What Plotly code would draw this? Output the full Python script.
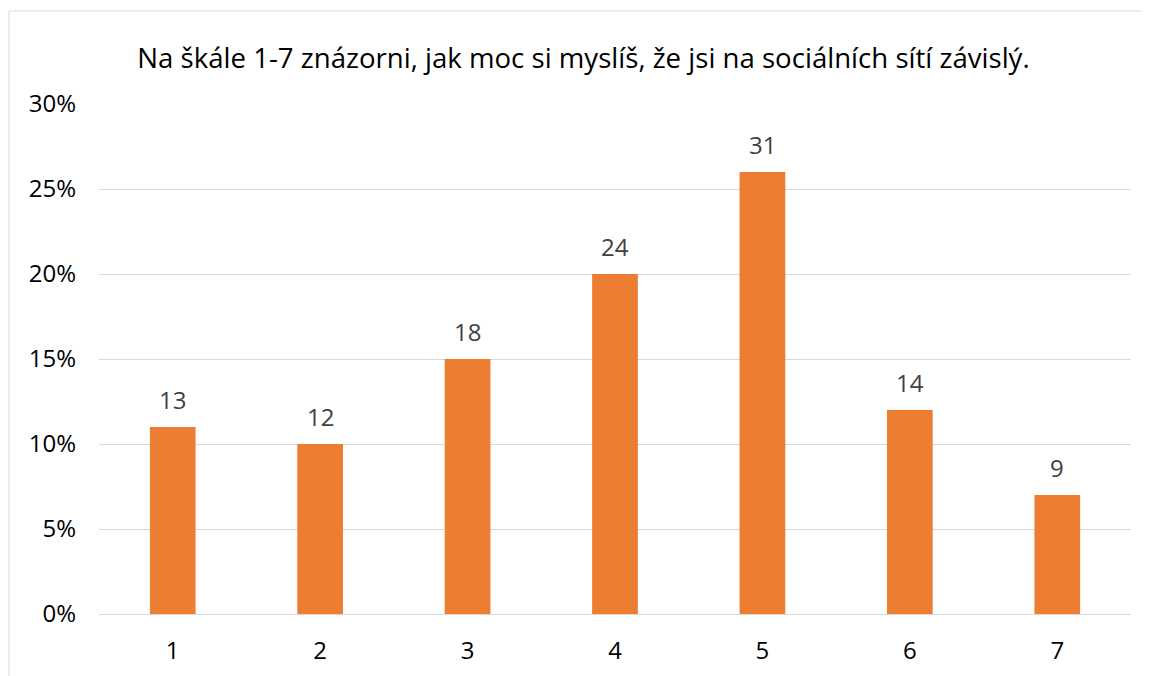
import plotly.graph_objects as go

categories = ["1", "2", "3", "4", "5", "6", "7"]
percent_values = [11, 10, 15, 20, 26, 12, 7]
count_labels = [13, 12, 18, 24, 31, 14, 9]
y_tick_values = [0, 5, 10, 15, 20, 25, 30]
y_tick_labels = ["0%", "5%", "10%", "15%", "20%", "25%", "30%"]
title_text = "Na škále 1-7 znázorni, jak moc si myslíš, že jsi na sociálních sítí závislý."

FONT = "Open Sans"
W, H = 1141, 668

fig = go.Figure(
    go.Bar(
        x=categories,
        y=percent_values,
        marker=dict(color="#ED7D31", line=dict(width=0)),
        width=0.31,
        hoverinfo="skip",
    )
)

for idx, (val, cnt) in enumerate(zip(percent_values, count_labels)):
    fig.add_annotation(
        x=idx,
        y=val,
        xref="x",
        yref="y",
        text=str(cnt),
        showarrow=False,
        xanchor="center",
        yanchor="middle",
        yshift=28,
        font=dict(family=FONT, size=24, color="#404040"),
    )

fig.update_layout(
    width=W,
    height=H,
    margin=dict(l=91, r=18, t=96, b=62, autoexpand=False),
    paper_bgcolor="white",
    plot_bgcolor="white",
    showlegend=False,
    title=dict(
        text=title_text,
        x=575.5 / W,
        xref="container",
        xanchor="center",
        y=1 - 50 / H,
        yref="container",
        yanchor="middle",
        font=dict(family=FONT, size=27.6, color="#000000"),
    ),
    xaxis=dict(
        type="category",
        range=[-0.5, len(categories) - 0.5],
        automargin=False,
        showgrid=False,
        showline=True,
        linecolor="#D9D9D9",
        linewidth=1,
        ticks="",
        ticklabelstandoff=15,
        tickfont=dict(family=FONT, size=24, color="#000000"),
    ),
    yaxis=dict(
        range=[0, 30],
        automargin=False,
        tickvals=y_tick_values,
        ticktext=y_tick_labels,
        showgrid=True,
        gridcolor="#D9D9D9",
        gridwidth=1,
        zeroline=False,
        showline=False,
        ticks="",
        ticklabelstandoff=22,
        tickfont=dict(family=FONT, size=24, color="#000000"),
    ),
    shapes=[
        dict(
            type="rect",
            xref="paper",
            yref="paper",
            x0=-0.0872,
            x1=1.05,
            y0=-0.3,
            y1=1.1824,
            line=dict(color="#D9D9D9", width=1),
            fillcolor="rgba(0,0,0,0)",
            layer="below",
        )
    ],
)

fig.write_html("out.html")
